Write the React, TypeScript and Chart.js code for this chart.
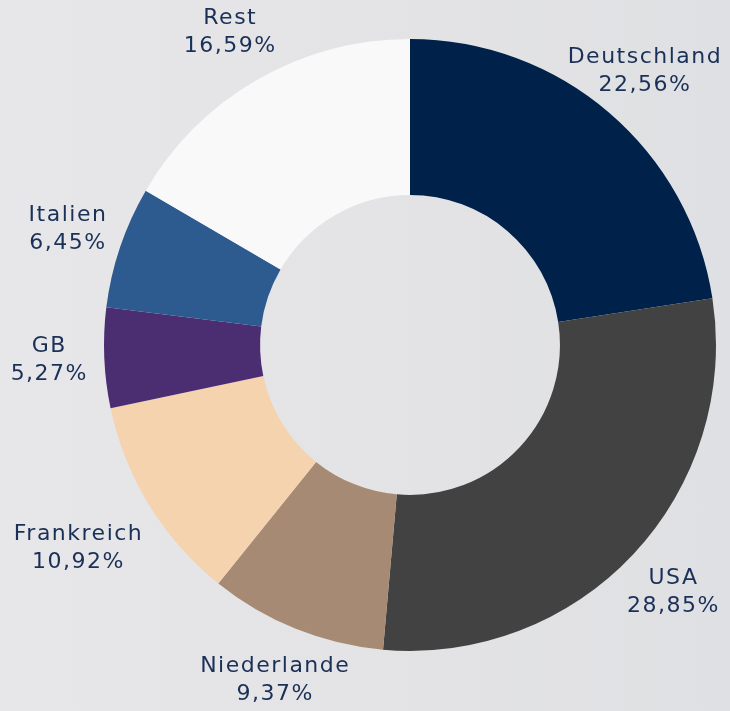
import React, { useEffect, useRef } from "react";
import { Chart, registerables } from "chart.js";

Chart.register(...registerables);

const categories = ["Deutschland", "USA", "Niederlande", "Frankreich", "GB", "Italien", "Rest"];
const shares = [22.56, 28.85, 9.37, 10.92, 5.27, 6.45, 16.59];
const valueLabels = ["22,56%", "28,85%", "9,37%", "10,92%", "5,27%", "6,45%", "16,59%"];
const colors = ["#00214a", "#424242", "#a78a74", "#f4d3ae", "#4b2d72", "#2d5b8f", "#f9f9f9"];

const labelPlugin = {
  id: "outerLabels",
  afterDatasetsDraw(chart: any) {
    const ctx = chart.ctx;
    const meta = chart.getDatasetMeta(0);
    ctx.save();
    ctx.font = '22px "DejaVu Sans"';
    try { (ctx as any).letterSpacing = "1.5px"; } catch (e) {}
    ctx.fillStyle = "#1a3057";
    ctx.textAlign = "center";
    ctx.textBaseline = "middle";
    const extra: Record<number, number> = { 3: 28 };
    meta.data.forEach((arc: any, i: number) => {
      const p = arc.getProps(["x", "y", "startAngle", "endAngle", "outerRadius"], true);
      const mid = (p.startAngle + p.endAngle) / 2;
      const r = p.outerRadius + 55 + (extra[i] || 0);
      const cx = p.x + Math.cos(mid) * r;
      const cy = p.y + Math.sin(mid) * r;
      ctx.fillText(categories[i], cx, cy - 14);
      ctx.fillText(valueLabels[i], cx, cy + 14);
    });
    ctx.restore();
  },
};

export default function App() {
  const ref = useRef<HTMLCanvasElement | null>(null);
  useEffect(() => {
    if (!ref.current) return;
    const chart = new Chart(ref.current, {
      type: "doughnut",
      data: {
        labels: categories,
        datasets: [
          {
            data: shares,
            backgroundColor: colors,
            borderWidth: 0,
          },
        ],
      },
      options: {
        responsive: false,
        animation: false,
        cutout: "49%",
        layout: { padding: { left: 104, right: 14, top: 39, bottom: 60 } },
        plugins: { legend: { display: false }, tooltip: { enabled: false } },
      },
      plugins: [labelPlugin],
    });
    return () => chart.destroy();
  }, []);
  return (
    <div
      style={{
        position: "absolute",
        left: 0,
        top: 0,
        width: 730,
        height: 711,
        background: "linear-gradient(90deg, #e7e7e9 0%, #e3e3e5 60%, #dfe0e3 100%)",
      }}
    >
      <canvas ref={ref} width={730} height={711} />
    </div>
  );
}
